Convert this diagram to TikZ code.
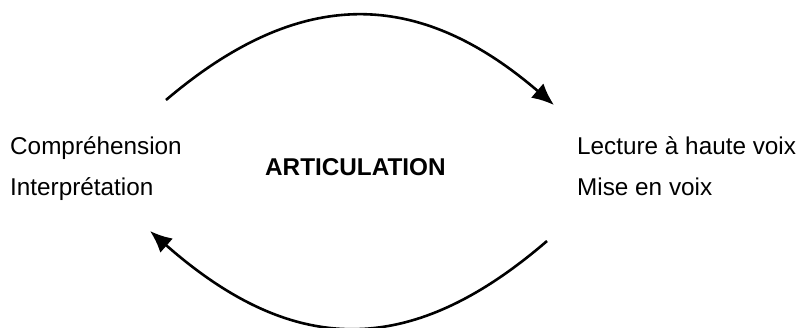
\documentclass[tikz,border=0pt]{standalone}
\usepackage{fontspec}
\setmainfont{Liberation Sans}
\usetikzlibrary{arrows.meta}

\begin{document}
\begin{tikzpicture}[x=1pt,y=-1pt,>/.tip={Latex[length=22pt,width=19pt]},
	lbl/.style={anchor=base west,inner sep=0pt,font=\fontsize{24.3}{29}\selectfont},
	arc/.style={->,line width=2.6pt}]
\useasboundingbox (0,0) rectangle (798,327);
\draw (10,154) node[lbl] (comp) {Compréhension};
\draw (10,195) node[lbl] (interp) {Interprétation};
\draw (265,175) node[lbl,font=\fontsize{24.3}{29}\selectfont\bfseries] (artic) {ARTICULATION};
\draw (577,154) node[lbl] (lect) {Lecture à haute voix};
\draw (577,195) node[lbl] (mise) {Mise en voix};
\coordinate (t1) at (166,100);
\coordinate (t2) at (554,105);
\coordinate (b1) at (547,241);
\coordinate (b2) at (150,231);
\draw[arc] (t1) .. controls (300,-14) and (418,-12) .. (t2);
\draw[arc] (b1) .. controls (409,360) and (292,356) .. (b2);
\end{tikzpicture}
\end{document}
